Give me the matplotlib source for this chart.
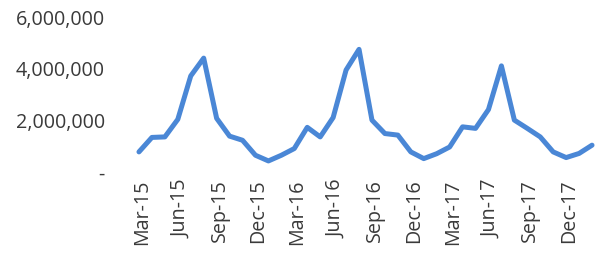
import matplotlib
matplotlib.use("Agg")
import matplotlib.pyplot as plt
import matplotlib.transforms as mtransforms
from matplotlib.ticker import FuncFormatter

months = ["Mar-15", "Apr-15", "May-15", "Jun-15", "Jul-15", "Aug-15", "Sep-15", "Oct-15", "Nov-15",
          "Dec-15", "Jan-16", "Feb-16", "Mar-16", "Apr-16", "May-16", "Jun-16", "Jul-16", "Aug-16",
          "Sep-16", "Oct-16", "Nov-16", "Dec-16", "Jan-17", "Feb-17", "Mar-17", "Apr-17", "May-17",
          "Jun-17", "Jul-17", "Aug-17", "Sep-17", "Oct-17", "Nov-17", "Dec-17", "Jan-18", "Feb-18"]
values = [790000, 1350000, 1370000, 2050000, 3730000, 4420000, 2090000, 1400000, 1240000,
          660000, 440000, 660000, 920000, 1740000, 1370000, 2120000, 3960000, 4760000,
          2020000, 1500000, 1440000, 790000, 530000, 720000, 980000, 1760000, 1700000,
          2430000, 4120000, 2020000, 1700000, 1370000, 790000, 570000, 730000, 1050000]
tick_labels = ["Mar-15", "Jun-15", "Sep-15", "Dec-15", "Mar-16", "Jun-16", "Sep-16", "Dec-16",
               "Mar-17", "Jun-17", "Sep-17", "Dec-17"]
y_ticks = [0, 2000000, 4000000, 6000000]

plt.rcParams['font.family'] = ['Open Sans', 'DejaVu Sans']

fig = plt.figure(figsize=(5.97, 2.63), dpi=100)
ax = fig.add_axes([132.5 / 597, 1 - 172.3 / 263, (598.5 - 132.5) / 597, (172.3 - 17.3) / 263])

x = list(range(len(months)))
ax.plot(x, values, color="#4a87d6", lw=3.6, solid_joinstyle="round", solid_capstyle="round")

ax.set_xlim(-0.5, len(months) - 0.5)
ax.set_ylim(0, 6000000)
ax.set_yticks(y_ticks)
ax.yaxis.set_major_formatter(FuncFormatter(lambda v, p: "-" if v == 0 else f"{int(v):,}"))
ax.set_xticks([months.index(t) for t in tick_labels])
ax.set_xticklabels(tick_labels, rotation=90)

for s in ax.spines.values():
    s.set_visible(False)
ax.tick_params(axis='both', length=0, colors="#3a3a3a", labelsize=14.2)
ax.tick_params(axis='y', pad=20)
ax.tick_params(axis='x', pad=5)

offset = mtransforms.ScaledTranslation(3 / 100, 0, fig.dpi_scale_trans)
for lbl in ax.get_xticklabels():
    lbl.set_transform(lbl.get_transform() + offset)

fig.savefig("out.png", dpi=100)
